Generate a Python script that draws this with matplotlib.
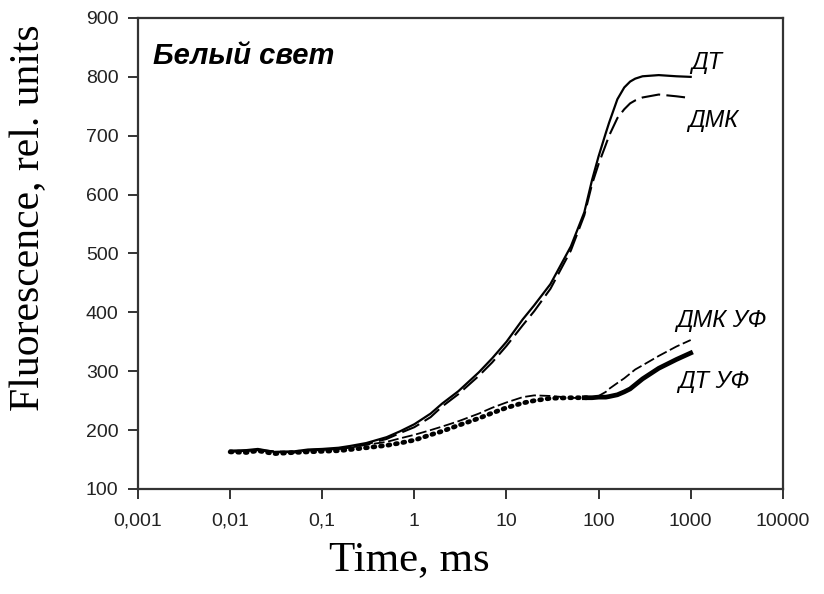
import numpy as np
import matplotlib
matplotlib.use("Agg")
import matplotlib.pyplot as plt
from matplotlib.ticker import FixedLocator, FixedFormatter, NullLocator

# time, ms
t = [0.01, 0.015, 0.02, 0.03, 0.05, 0.07, 0.1, 0.15, 0.2, 0.3, 0.5, 0.7,
     1, 1.5, 2, 3, 5, 7, 10, 15, 20, 30, 50, 70, 85, 100, 120, 130, 160, 190,
     220, 250, 300, 450, 700, 1000]

# fluorescence, rel. units
dt = [165, 166, 168, 163, 164, 167, 168, 170, 173, 178, 188, 198,
      210, 228, 245, 266, 298, 322, 350, 388, 412, 448, 512, 570, 625, 665, 705, 722, 762, 782,
      792, 797, 801, 803, 801, 800]
dmk = [163, 165, 166, 164, 162, 166, 167, 168, 171, 176, 185, 195,
       205, 222, 240, 261, 292, 315, 343, 378, 402, 440, 505, 565, 618, 652, 685, 700, 730, 745,
       755, 760, 765, 770, 767, 764]
dt_uv = [163, 162, 165, 160, 162, 163, 164, 165, 167, 170, 174, 178,
         183, 192, 198, 208, 220, 229, 238, 246, 250, 254, 255, 255, 255, 256, 256, 257, 260, 265,
         270, 277, 287, 305, 320, 331]
dmk_uv = [165, 164, 166, 162, 163, 165, 166, 168, 170, 175, 180, 186,
          192, 200, 206, 215, 228, 238, 247, 256, 259, 258, 255, 254, 255, 258, 265, 270, 280, 288,
          296, 303, 310, 326, 342, 353]

xticks = [0.001, 0.01, 0.1, 1, 10, 100, 1000, 10000]
xticklabels = ["0,001", "0,01", "0,1", "1", "10", "100", "1000", "10000"]
yticks = [100, 200, 300, 400, 500, 600, 700, 800, 900]

fig = plt.figure(figsize=(8.24, 5.94), dpi=100)
ax = fig.add_axes([0.1675, 0.1768, 0.7825, 0.7929])

t = np.array(t)
dt_uv = np.array(dt_uv)
early = t <= 85

ax.plot(t, dt, color="black", lw=1.6)
ax.plot(t, dmk, color="black", lw=1.5, dashes=(9, 3))
ax.plot(t[early], dt_uv[early], color="black", lw=3.4, ls=(0, (0.4, 1.2)),
        dash_capstyle="round")
ax.plot(t[t >= 70], dt_uv[t >= 70], color="black", lw=3.4)
ax.plot(t, dmk_uv, color="black", lw=1.3, dashes=(6, 2))

ax.set_xscale("log")
ax.set_xlim(0.001, 10000)
ax.set_ylim(100, 900)
ax.xaxis.set_major_locator(FixedLocator(xticks))
ax.xaxis.set_major_formatter(FixedFormatter(xticklabels))
ax.xaxis.set_minor_locator(NullLocator())
ax.set_yticks(yticks)

for s in ax.spines.values():
    s.set_linewidth(1.6)
    s.set_color("#333333")
ax.tick_params(direction="out", length=7, width=1.4, color="#333333",
               labelsize=14, top=False, right=False)
ax.tick_params(axis="x", pad=10)
ax.tick_params(axis="y", pad=7)
for lab in ax.get_xticklabels() + ax.get_yticklabels():
    lab.set_family("Liberation Sans")
    lab.set_color("#222222")

ax.set_xlabel("Time, ms", family="Liberation Serif", fontsize=31, va="center")
ax.xaxis.set_label_coords(0.42, -0.15)
ax.set_ylabel("Fluorescence, rel. units", family="Liberation Serif",
              fontsize=30, va="center")
ax.yaxis.set_label_coords(-0.169, 0.575)

ax.text(0.023, 0.92, "Белый свет", transform=ax.transAxes, family="Liberation Sans",
        fontsize=21, weight="bold", style="italic", va="center")

lab_kw = dict(family="Liberation Sans", fontsize=17, style="italic", va="center")
ax.text(1000, 825, "ДТ", **lab_kw)
ax.text(950, 726, "ДМК", **lab_kw)
ax.text(690, 387, "ДМК УФ", **lab_kw)
ax.text(740, 283, "ДТ УФ", **lab_kw)

fig.savefig("out.png", dpi=100)
